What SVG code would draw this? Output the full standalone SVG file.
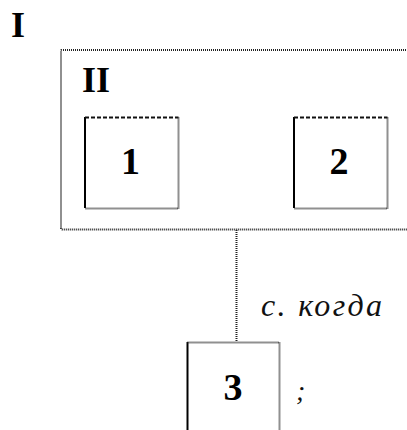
<svg xmlns="http://www.w3.org/2000/svg" width="407" height="430" viewBox="0 0 407 430">
<style>
.lbl{font-family:"Liberation Serif","Times New Roman",serif;font-weight:bold;fill:#000}
.it{font-family:"Liberation Serif","Times New Roman",serif;font-style:italic;fill:#111}
.dot{fill:none;stroke:#222;stroke-width:2;stroke-dasharray:1 1}
.sol{fill:none;stroke:#000;stroke-width:2}
.dash{fill:none;stroke:#111;stroke-width:2;stroke-dasharray:4 2}
</style>
<rect width="407" height="430" fill="#fff"/>
<text class="lbl" x="11" y="37" font-size="36">I</text>
<g id="outer">
<path class="dot" d="M412,50 H62 Q61,50 61,51 V228 Q61,229.5 62,229.5 H412"/>
<text class="lbl" x="82" y="92" font-size="36">II</text>
</g>
<g id="node1">
<path class="sol" d="M85,117 V208"/>
<path class="dash" d="M85,117.5 H178.5"/>
<path class="dot" d="M178.5,117.5 V208.5 H85"/>
<text class="lbl" x="130.5" y="174" font-size="38" text-anchor="middle">1</text>
</g>
<g id="node2">
<path class="sol" d="M294,117 V208"/>
<path class="dash" d="M294,117.5 H387.5"/>
<path class="dot" d="M387.5,117.5 V208.5 H294"/>
<text class="lbl" x="339" y="174" font-size="38" text-anchor="middle">2</text>
</g>
<g id="connectors">
<path class="dot" d="M236.5,230 V342"/>
<text class="it" x="261" y="316" font-size="32" textLength="121" lengthAdjust="spacing">с. когда</text>
</g>
<g id="node3">
<path class="sol" d="M187.5,342 V432"/>
<path class="dot" d="M187.5,342.5 H279.5 V432"/>
<text class="lbl" x="233" y="400" font-size="38" text-anchor="middle" fill="#111">3</text>
</g>
<text class="it" x="296" y="400" font-size="28">;</text>
</svg>
